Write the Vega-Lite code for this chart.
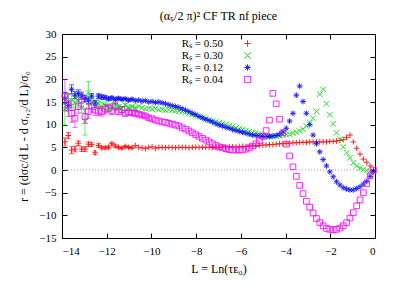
{
"$schema":"https://vega.github.io/schema/vega-lite/v6.json",
"width":313,"height":204,
"autosize":{"type":"none"},
"padding":{"left":62,"top":34,"right":34,"bottom":48},
"background":"white",
"config":{"view":{"stroke":"black","strokeWidth":1},"font":"Liberation Serif",
"axis":{"labelFont":"Liberation Serif","labelFontSize":11,"titleFont":"Liberation Serif","titleFontSize":12,"titleFontWeight":"normal","labelColor":"black","titleColor":"black","domainColor":"black","tickColor":"black","tickSize":-5,"grid":false,"labelPadding":5}},
"title":{"text":"(αₛ/2 π)²  CF TR nf   piece","font":"Liberation Serif","fontSize":12,"fontWeight":"normal","color":"black","anchor":"middle","offset":5},
"data":{"values":[
{"s":"0.50","L":-13.87,"r":6.2,"e":0.9},{"s":"0.50","L":-13.72,"r":7.6,"e":0.7},{"s":"0.50","L":-13.57,"r":4.4,"e":0.8},{"s":"0.50","L":-13.42,"r":4.6,"e":0.6},{"s":"0.50","L":-13.27,"r":5.9,"e":0.5},{"s":"0.50","L":-13.12,"r":4.6,"e":0.5},{"s":"0.50","L":-12.97,"r":4.6,"e":0.5},{"s":"0.50","L":-12.82,"r":5.7,"e":0.5},{"s":"0.50","L":-12.67,"r":5.6,"e":0.4},{"s":"0.50","L":-12.52,"r":3.8,"e":0.4},
{"s":"0.50","L":-12.37,"r":5.4,"e":0.4},{"s":"0.50","L":-12.22,"r":4.9,"e":0.3},{"s":"0.50","L":-12.07,"r":4.9,"e":0.3},{"s":"0.50","L":-11.92,"r":5.0,"e":0.3},{"s":"0.50","L":-11.77,"r":5.8,"e":0.3},{"s":"0.50","L":-11.62,"r":5.3,"e":0.3},{"s":"0.50","L":-11.47,"r":5.0,"e":0.2},{"s":"0.50","L":-11.32,"r":4.8,"e":0.2},{"s":"0.50","L":-11.17,"r":5.2,"e":0.2},{"s":"0.50","L":-11.02,"r":5.0,"e":0.2},
{"s":"0.50","L":-10.87,"r":4.9,"e":0.2},{"s":"0.50","L":-10.72,"r":5.4},{"s":"0.50","L":-10.57,"r":5.0},{"s":"0.50","L":-10.42,"r":4.9},{"s":"0.50","L":-10.27,"r":4.7},{"s":"0.50","L":-10.12,"r":5.0},{"s":"0.50","L":-9.97,"r":5.1},{"s":"0.50","L":-9.82,"r":4.8},{"s":"0.50","L":-9.67,"r":5.0},{"s":"0.50","L":-9.52,"r":5.0},
{"s":"0.50","L":-9.37,"r":4.9},{"s":"0.50","L":-9.22,"r":5.0},{"s":"0.50","L":-9.07,"r":5.0},{"s":"0.50","L":-8.92,"r":4.9},{"s":"0.50","L":-8.77,"r":5.0},{"s":"0.50","L":-8.62,"r":5.0},{"s":"0.50","L":-8.47,"r":5.0},{"s":"0.50","L":-8.32,"r":4.9},{"s":"0.50","L":-8.17,"r":5.0},{"s":"0.50","L":-8.02,"r":5.0},
{"s":"0.50","L":-7.87,"r":5.0},{"s":"0.50","L":-7.72,"r":5.0},{"s":"0.50","L":-7.57,"r":5.0},{"s":"0.50","L":-7.42,"r":5.0},{"s":"0.50","L":-7.27,"r":5.0},{"s":"0.50","L":-7.12,"r":5.0},{"s":"0.50","L":-6.97,"r":5.0},{"s":"0.50","L":-6.82,"r":5.1},{"s":"0.50","L":-6.67,"r":5.1},{"s":"0.50","L":-6.52,"r":5.1},
{"s":"0.50","L":-6.37,"r":5.1},{"s":"0.50","L":-6.22,"r":5.1},{"s":"0.50","L":-6.07,"r":5.2},{"s":"0.50","L":-5.92,"r":5.2},{"s":"0.50","L":-5.77,"r":5.2},{"s":"0.50","L":-5.62,"r":5.3},{"s":"0.50","L":-5.47,"r":5.3},{"s":"0.50","L":-5.32,"r":5.4},{"s":"0.50","L":-5.17,"r":5.4},{"s":"0.50","L":-5.02,"r":5.5},
{"s":"0.50","L":-4.87,"r":5.5},{"s":"0.50","L":-4.72,"r":5.6},{"s":"0.50","L":-4.57,"r":5.6},{"s":"0.50","L":-4.42,"r":5.7},{"s":"0.50","L":-4.27,"r":5.8},{"s":"0.50","L":-4.12,"r":5.8},{"s":"0.50","L":-3.97,"r":5.9},{"s":"0.50","L":-3.82,"r":5.9},{"s":"0.50","L":-3.67,"r":6.0},{"s":"0.50","L":-3.52,"r":6.0},
{"s":"0.50","L":-3.37,"r":6.1},{"s":"0.50","L":-3.22,"r":6.1},{"s":"0.50","L":-3.07,"r":6.1},{"s":"0.50","L":-2.92,"r":6.2},{"s":"0.50","L":-2.77,"r":6.2},{"s":"0.50","L":-2.62,"r":6.2},{"s":"0.50","L":-2.47,"r":6.2},{"s":"0.50","L":-2.32,"r":6.2},{"s":"0.50","L":-2.17,"r":6.2},{"s":"0.50","L":-2.02,"r":6.3},
{"s":"0.50","L":-1.87,"r":6.3},{"s":"0.50","L":-1.72,"r":6.4},{"s":"0.50","L":-1.57,"r":6.5},{"s":"0.50","L":-1.42,"r":6.7},{"s":"0.50","L":-1.27,"r":7.2},{"s":"0.50","L":-1.12,"r":7.7},{"s":"0.50","L":-0.97,"r":6.2},{"s":"0.50","L":-0.82,"r":4.8},{"s":"0.50","L":-0.67,"r":3.5},{"s":"0.50","L":-0.52,"r":2.4},
{"s":"0.50","L":-0.37,"r":1.7},{"s":"0.50","L":-0.22,"r":0.9},{"s":"0.50","L":-0.07,"r":0.0},

{"s":"0.30","L":-13.87,"r":13.4,"e":3.5},{"s":"0.30","L":-13.72,"r":15.1,"e":1.5},{"s":"0.30","L":-13.57,"r":15.4,"e":1.5},{"s":"0.30","L":-13.42,"r":14.9,"e":1.2},{"s":"0.30","L":-13.27,"r":15.3,"e":1.2},{"s":"0.30","L":-13.12,"r":13.8,"e":1.2},{"s":"0.30","L":-12.97,"r":10.7,"e":3.0},{"s":"0.30","L":-12.82,"r":17.0,"e":2.5},{"s":"0.30","L":-12.67,"r":14.8,"e":1.0},{"s":"0.30","L":-12.52,"r":14.2,"e":1.0},
{"s":"0.30","L":-12.37,"r":14.6,"e":0.8},{"s":"0.30","L":-12.22,"r":14.0,"e":0.8},{"s":"0.30","L":-12.07,"r":14.3,"e":0.7},{"s":"0.30","L":-11.92,"r":13.8,"e":0.7},{"s":"0.30","L":-11.77,"r":14.1,"e":0.6},{"s":"0.30","L":-11.62,"r":14.4,"e":0.6},{"s":"0.30","L":-11.47,"r":13.9,"e":0.5},{"s":"0.30","L":-11.32,"r":13.6,"e":0.5},{"s":"0.30","L":-11.17,"r":14.3,"e":0.4},{"s":"0.30","L":-11.02,"r":13.7,"e":0.4},
{"s":"0.30","L":-10.87,"r":14.0,"e":0.3},{"s":"0.30","L":-10.72,"r":13.6,"e":0.3},{"s":"0.30","L":-10.57,"r":14.1},{"s":"0.30","L":-10.42,"r":13.7},{"s":"0.30","L":-10.27,"r":13.5},{"s":"0.30","L":-10.12,"r":13.6},{"s":"0.30","L":-9.97,"r":13.4},{"s":"0.30","L":-9.82,"r":13.6},{"s":"0.30","L":-9.67,"r":13.3},{"s":"0.30","L":-9.52,"r":13.4},
{"s":"0.30","L":-9.37,"r":13.2},{"s":"0.30","L":-9.22,"r":13.3},{"s":"0.30","L":-9.07,"r":13.2},{"s":"0.30","L":-8.92,"r":13.1},{"s":"0.30","L":-8.77,"r":13.0},{"s":"0.30","L":-8.62,"r":12.9},{"s":"0.30","L":-8.47,"r":12.7},{"s":"0.30","L":-8.32,"r":12.5},{"s":"0.30","L":-8.17,"r":12.3},{"s":"0.30","L":-8.02,"r":12.1},
{"s":"0.30","L":-7.87,"r":11.8},{"s":"0.30","L":-7.72,"r":11.6},{"s":"0.30","L":-7.57,"r":11.3},{"s":"0.30","L":-7.42,"r":11.0},{"s":"0.30","L":-7.27,"r":10.8},{"s":"0.30","L":-7.12,"r":10.6},{"s":"0.30","L":-6.97,"r":10.4},{"s":"0.30","L":-6.82,"r":10.2},{"s":"0.30","L":-6.67,"r":10.0},{"s":"0.30","L":-6.52,"r":9.8},
{"s":"0.30","L":-6.37,"r":9.6},{"s":"0.30","L":-6.22,"r":9.3},{"s":"0.30","L":-6.07,"r":9.1},{"s":"0.30","L":-5.92,"r":8.9},{"s":"0.30","L":-5.77,"r":8.7},{"s":"0.30","L":-5.62,"r":8.5},{"s":"0.30","L":-5.47,"r":8.3},{"s":"0.30","L":-5.32,"r":8.1},{"s":"0.30","L":-5.17,"r":7.9},{"s":"0.30","L":-5.02,"r":7.8},
{"s":"0.30","L":-4.87,"r":7.6},{"s":"0.30","L":-4.72,"r":7.5},{"s":"0.30","L":-4.57,"r":7.4},{"s":"0.30","L":-4.42,"r":7.5},{"s":"0.30","L":-4.27,"r":7.6},{"s":"0.30","L":-4.12,"r":7.7},{"s":"0.30","L":-3.97,"r":7.8},{"s":"0.30","L":-3.82,"r":7.9},{"s":"0.30","L":-3.67,"r":8.1},{"s":"0.30","L":-3.52,"r":8.3},
{"s":"0.30","L":-3.37,"r":8.6},{"s":"0.30","L":-3.22,"r":9.0},{"s":"0.30","L":-3.07,"r":9.7},{"s":"0.30","L":-2.92,"r":10.4},{"s":"0.30","L":-2.77,"r":11.4},{"s":"0.30","L":-2.62,"r":12.9},{"s":"0.30","L":-2.47,"r":16.7},{"s":"0.30","L":-2.32,"r":17.8},{"s":"0.30","L":-2.17,"r":14.6},{"s":"0.30","L":-2.02,"r":12.2},
{"s":"0.30","L":-1.87,"r":10.2},{"s":"0.30","L":-1.72,"r":8.2},{"s":"0.30","L":-1.57,"r":6.8},{"s":"0.30","L":-1.42,"r":5.1},{"s":"0.30","L":-1.27,"r":3.8},{"s":"0.30","L":-1.12,"r":2.7},{"s":"0.30","L":-0.97,"r":1.6},{"s":"0.30","L":-0.82,"r":0.9},{"s":"0.30","L":-0.67,"r":0.4},{"s":"0.30","L":-0.52,"r":0.1},
{"s":"0.30","L":-0.37,"r":-0.1},{"s":"0.30","L":-0.22,"r":-0.3},{"s":"0.30","L":-0.07,"r":-0.4},

{"s":"0.12","L":-13.87,"r":15.8,"e":1.2},{"s":"0.12","L":-13.72,"r":14.2,"e":1.0},{"s":"0.12","L":-13.57,"r":17.8,"e":1.0},{"s":"0.12","L":-13.42,"r":16.5,"e":0.8},{"s":"0.12","L":-13.27,"r":16.9,"e":0.8},{"s":"0.12","L":-13.12,"r":16.4,"e":0.8},{"s":"0.12","L":-12.97,"r":15.8,"e":0.7},{"s":"0.12","L":-12.82,"r":15.4,"e":0.7},{"s":"0.12","L":-12.67,"r":16.3,"e":0.6},{"s":"0.12","L":-12.52,"r":14.8,"e":0.6},
{"s":"0.12","L":-12.37,"r":16.3,"e":0.5},{"s":"0.12","L":-12.22,"r":16.1,"e":0.5},{"s":"0.12","L":-12.07,"r":16.0,"e":0.4},{"s":"0.12","L":-11.92,"r":15.7,"e":0.4},{"s":"0.12","L":-11.77,"r":15.9,"e":0.4},{"s":"0.12","L":-11.62,"r":15.6,"e":0.3},{"s":"0.12","L":-11.47,"r":15.8,"e":0.3},{"s":"0.12","L":-11.32,"r":15.6,"e":0.3},{"s":"0.12","L":-11.17,"r":15.7,"e":0.2},{"s":"0.12","L":-11.02,"r":15.4,"e":0.2},
{"s":"0.12","L":-10.87,"r":15.6,"e":0.2},{"s":"0.12","L":-10.72,"r":15.3},{"s":"0.12","L":-10.57,"r":15.4},{"s":"0.12","L":-10.42,"r":15.2},{"s":"0.12","L":-10.27,"r":15.3},{"s":"0.12","L":-10.12,"r":15.0},{"s":"0.12","L":-9.97,"r":15.1},{"s":"0.12","L":-9.82,"r":14.9},{"s":"0.12","L":-9.67,"r":15.0},{"s":"0.12","L":-9.52,"r":14.8},
{"s":"0.12","L":-9.37,"r":14.6},{"s":"0.12","L":-9.22,"r":14.4},{"s":"0.12","L":-9.07,"r":14.2},{"s":"0.12","L":-8.92,"r":14.0},{"s":"0.12","L":-8.77,"r":13.8},{"s":"0.12","L":-8.62,"r":13.5},{"s":"0.12","L":-8.47,"r":13.2},{"s":"0.12","L":-8.32,"r":12.9},{"s":"0.12","L":-8.17,"r":12.5},{"s":"0.12","L":-8.02,"r":12.2},
{"s":"0.12","L":-7.87,"r":11.8},{"s":"0.12","L":-7.72,"r":11.5},{"s":"0.12","L":-7.57,"r":11.2},{"s":"0.12","L":-7.42,"r":10.9},{"s":"0.12","L":-7.27,"r":10.6},{"s":"0.12","L":-7.12,"r":10.2},{"s":"0.12","L":-6.97,"r":9.9},{"s":"0.12","L":-6.82,"r":9.7},{"s":"0.12","L":-6.67,"r":9.4},{"s":"0.12","L":-6.52,"r":9.2},
{"s":"0.12","L":-6.37,"r":8.9},{"s":"0.12","L":-6.22,"r":8.7},{"s":"0.12","L":-6.07,"r":8.5},{"s":"0.12","L":-5.92,"r":8.3},{"s":"0.12","L":-5.77,"r":8.1},{"s":"0.12","L":-5.62,"r":7.9},{"s":"0.12","L":-5.47,"r":7.7},{"s":"0.12","L":-5.32,"r":7.6},{"s":"0.12","L":-5.17,"r":7.5},{"s":"0.12","L":-5.02,"r":7.4},
{"s":"0.12","L":-4.87,"r":7.4},{"s":"0.12","L":-4.72,"r":7.4},{"s":"0.12","L":-4.57,"r":7.5},{"s":"0.12","L":-4.42,"r":7.6},{"s":"0.12","L":-4.27,"r":7.9},{"s":"0.12","L":-4.12,"r":8.4},{"s":"0.12","L":-3.97,"r":9.2},{"s":"0.12","L":-3.82,"r":10.8},{"s":"0.12","L":-3.67,"r":12.5},{"s":"0.12","L":-3.52,"r":16.5},
{"s":"0.12","L":-3.37,"r":18.5},{"s":"0.12","L":-3.22,"r":15.1},{"s":"0.12","L":-3.07,"r":12.5},{"s":"0.12","L":-2.92,"r":10.0},{"s":"0.12","L":-2.77,"r":7.7},{"s":"0.12","L":-2.62,"r":5.8},{"s":"0.12","L":-2.47,"r":4.0},{"s":"0.12","L":-2.32,"r":2.3},{"s":"0.12","L":-2.17,"r":0.9},{"s":"0.12","L":-2.02,"r":-0.4},
{"s":"0.12","L":-1.87,"r":-1.5},{"s":"0.12","L":-1.72,"r":-2.6},{"s":"0.12","L":-1.57,"r":-3.3},{"s":"0.12","L":-1.42,"r":-3.9},{"s":"0.12","L":-1.27,"r":-4.2},{"s":"0.12","L":-1.12,"r":-4.4},{"s":"0.12","L":-0.97,"r":-4.4},{"s":"0.12","L":-0.82,"r":-4.1},{"s":"0.12","L":-0.67,"r":-3.7},{"s":"0.12","L":-0.52,"r":-3.1},
{"s":"0.12","L":-0.37,"r":-2.5},{"s":"0.12","L":-0.22,"r":-1.4},{"s":"0.12","L":-0.07,"r":-0.3},

{"s":"0.04","L":-13.87,"r":16.5,"e":3.5},{"s":"0.04","L":-13.72,"r":14.3,"e":2.5},{"s":"0.04","L":-13.57,"r":12.5,"e":2.0},{"s":"0.04","L":-13.42,"r":11.4,"e":2.0},{"s":"0.04","L":-13.27,"r":14.0,"e":1.5},{"s":"0.04","L":-13.12,"r":15.4,"e":1.5},{"s":"0.04","L":-12.97,"r":11.8,"e":1.5},{"s":"0.04","L":-12.82,"r":12.9,"e":1.5},{"s":"0.04","L":-12.67,"r":14.0,"e":1.2},{"s":"0.04","L":-12.52,"r":13.2,"e":1.2},
{"s":"0.04","L":-12.37,"r":13.0,"e":1.0},{"s":"0.04","L":-12.22,"r":12.9,"e":1.0},{"s":"0.04","L":-12.07,"r":13.4,"e":1.0},{"s":"0.04","L":-11.92,"r":13.6,"e":0.8},{"s":"0.04","L":-11.77,"r":13.0,"e":0.8},{"s":"0.04","L":-11.62,"r":14.0,"e":0.8},{"s":"0.04","L":-11.47,"r":12.9,"e":0.7},{"s":"0.04","L":-11.32,"r":13.3,"e":0.7},{"s":"0.04","L":-11.17,"r":12.5,"e":0.6},{"s":"0.04","L":-11.02,"r":12.8,"e":0.6},
{"s":"0.04","L":-10.87,"r":12.6,"e":0.5},{"s":"0.04","L":-10.72,"r":12.5,"e":0.5},{"s":"0.04","L":-10.57,"r":12.3,"e":0.4},{"s":"0.04","L":-10.42,"r":12.1,"e":0.4},{"s":"0.04","L":-10.27,"r":11.9,"e":0.3},{"s":"0.04","L":-10.12,"r":11.5,"e":0.3},{"s":"0.04","L":-9.97,"r":11.3},{"s":"0.04","L":-9.82,"r":11.0},{"s":"0.04","L":-9.67,"r":10.8},{"s":"0.04","L":-9.52,"r":10.6},
{"s":"0.04","L":-9.37,"r":10.5},{"s":"0.04","L":-9.22,"r":10.3},{"s":"0.04","L":-9.07,"r":10.1},{"s":"0.04","L":-8.92,"r":9.9},{"s":"0.04","L":-8.77,"r":9.7},{"s":"0.04","L":-8.62,"r":9.3},{"s":"0.04","L":-8.47,"r":9.0},{"s":"0.04","L":-8.32,"r":8.6},{"s":"0.04","L":-8.17,"r":8.2},{"s":"0.04","L":-8.02,"r":7.8},
{"s":"0.04","L":-7.87,"r":7.4},{"s":"0.04","L":-7.72,"r":7.0},{"s":"0.04","L":-7.57,"r":6.6},{"s":"0.04","L":-7.42,"r":6.2},{"s":"0.04","L":-7.27,"r":5.8},{"s":"0.04","L":-7.12,"r":5.4},{"s":"0.04","L":-6.97,"r":5.1},{"s":"0.04","L":-6.82,"r":4.9},{"s":"0.04","L":-6.67,"r":4.7},{"s":"0.04","L":-6.52,"r":4.5},
{"s":"0.04","L":-6.37,"r":4.4},{"s":"0.04","L":-6.22,"r":4.4},{"s":"0.04","L":-6.07,"r":4.4},{"s":"0.04","L":-5.92,"r":4.4},{"s":"0.04","L":-5.77,"r":4.6},{"s":"0.04","L":-5.62,"r":4.9},{"s":"0.04","L":-5.47,"r":5.3},{"s":"0.04","L":-5.32,"r":5.8},{"s":"0.04","L":-5.17,"r":6.5},{"s":"0.04","L":-5.02,"r":7.4},
{"s":"0.04","L":-4.87,"r":8.7},{"s":"0.04","L":-4.72,"r":11.0},{"s":"0.04","L":-4.57,"r":16.9},{"s":"0.04","L":-4.42,"r":14.6},{"s":"0.04","L":-4.27,"r":11.2},{"s":"0.04","L":-4.12,"r":8.2},{"s":"0.04","L":-3.97,"r":5.7},{"s":"0.04","L":-3.82,"r":3.1},{"s":"0.04","L":-3.67,"r":0.7},{"s":"0.04","L":-3.52,"r":-1.4},
{"s":"0.04","L":-3.37,"r":-3.4},{"s":"0.04","L":-3.22,"r":-5.2},{"s":"0.04","L":-3.07,"r":-6.9},{"s":"0.04","L":-2.92,"r":-8.2},{"s":"0.04","L":-2.77,"r":-9.5},{"s":"0.04","L":-2.62,"r":-10.7},{"s":"0.04","L":-2.47,"r":-11.6},{"s":"0.04","L":-2.32,"r":-12.3},{"s":"0.04","L":-2.17,"r":-12.9},{"s":"0.04","L":-2.02,"r":-13.1},
{"s":"0.04","L":-1.87,"r":-13.2},{"s":"0.04","L":-1.72,"r":-13.1},{"s":"0.04","L":-1.57,"r":-12.8},{"s":"0.04","L":-1.42,"r":-12.3},{"s":"0.04","L":-1.27,"r":-11.6},{"s":"0.04","L":-1.12,"r":-10.6},{"s":"0.04","L":-0.97,"r":-9.4},{"s":"0.04","L":-0.82,"r":-7.9},{"s":"0.04","L":-0.67,"r":-6.6},{"s":"0.04","L":-0.52,"r":-5.0},
{"s":"0.04","L":-0.37,"r":-3.0},{"s":"0.04","L":-0.22,"r":-1.3},{"s":"0.04","L":-0.07,"r":0.0}
]},
"layer":[
{"data":{"values":[{}]},"mark":{"type":"rule","color":"#a0a0a0","strokeDash":[1,2],"strokeWidth":1},
 "encoding":{"y":{"datum":0,"type":"quantitative","axis":null}}},
{"mark":{"type":"point","filled":false,"size":32,"strokeWidth":1,"opacity":0.85},
 "encoding":{
 "x":{"field":"L","type":"quantitative","scale":{"domain":[-14,0],"nice":false,"zero":false},
   "axis":{"values":[-14,-12,-10,-8,-6,-4,-2,0],"title":"L = Ln(τᴇ₀)","titlePadding":7,"labelPadding":12}},
 "y":{"field":"r","type":"quantitative","scale":{"domain":[-15,30],"nice":false,"zero":false},
   "axis":{"values":[-15,-10,-5,0,5,10,15,20,25,30],"title":"r = (dσc/d L - d σᵣ,₂/d L)/σ₀","titlePadding":8,"labelPadding":11}},
 "color":{"field":"s","type":"nominal","scale":{"domain":["0.50","0.30","0.12","0.04"],"range":["#ff0000","#00dd00","#0000ff","#ff00ff"]},
   "legend":{"orient":"none","legendX":180,"legendY":4,"title":null,"padding":0,"labelExpr":"'Rₛ = ' + datum.label",
     "labelFont":"Liberation Serif","labelFontSize":11,"labelColor":"black","labelAlign":"right","labelOffset":-30,
     "symbolSize":40,"symbolStrokeWidth":1,"symbolFillColor":"transparent","rowPadding":0}},
 "shape":{"field":"s","type":"nominal","scale":{"domain":["0.50","0.30","0.12","0.04"],"range":["M-1,0H1M0,-1V1","M-1,-1L1,1M-1,1L1,-1","M-1,0H1M0,-1V1M-0.7,-0.7L0.7,0.7M-0.7,0.7L0.7,-0.7","M-1,-1H1M1,-1V1M1,1H-1M-1,1V-1"]},"legend":null}
 }},
{"transform":[{"filter":"datum.e > 0"}],
 "mark":{"type":"errorbar","ticks":true,"size":5,"thickness":1,"opacity":0.6},
 "encoding":{"x":{"field":"L","type":"quantitative","axis":null},"y":{"field":"r","type":"quantitative","axis":null},"yError":{"field":"e"},
 "color":{"field":"s","type":"nominal"}}},
{"mark":{"type":"point","opacity":0},
 "encoding":{
 "x":{"field":"L","type":"quantitative","axis":{"orient":"top","values":[-14,-12,-10,-8,-6,-4,-2,0],"labels":false,"title":null}},
 "y":{"field":"r","type":"quantitative","axis":{"orient":"right","values":[-15,-10,-5,0,5,10,15,20,25,30],"labels":false,"title":null}}}}
],
"resolve":{"axis":{"x":"independent","y":"independent"}}
}
